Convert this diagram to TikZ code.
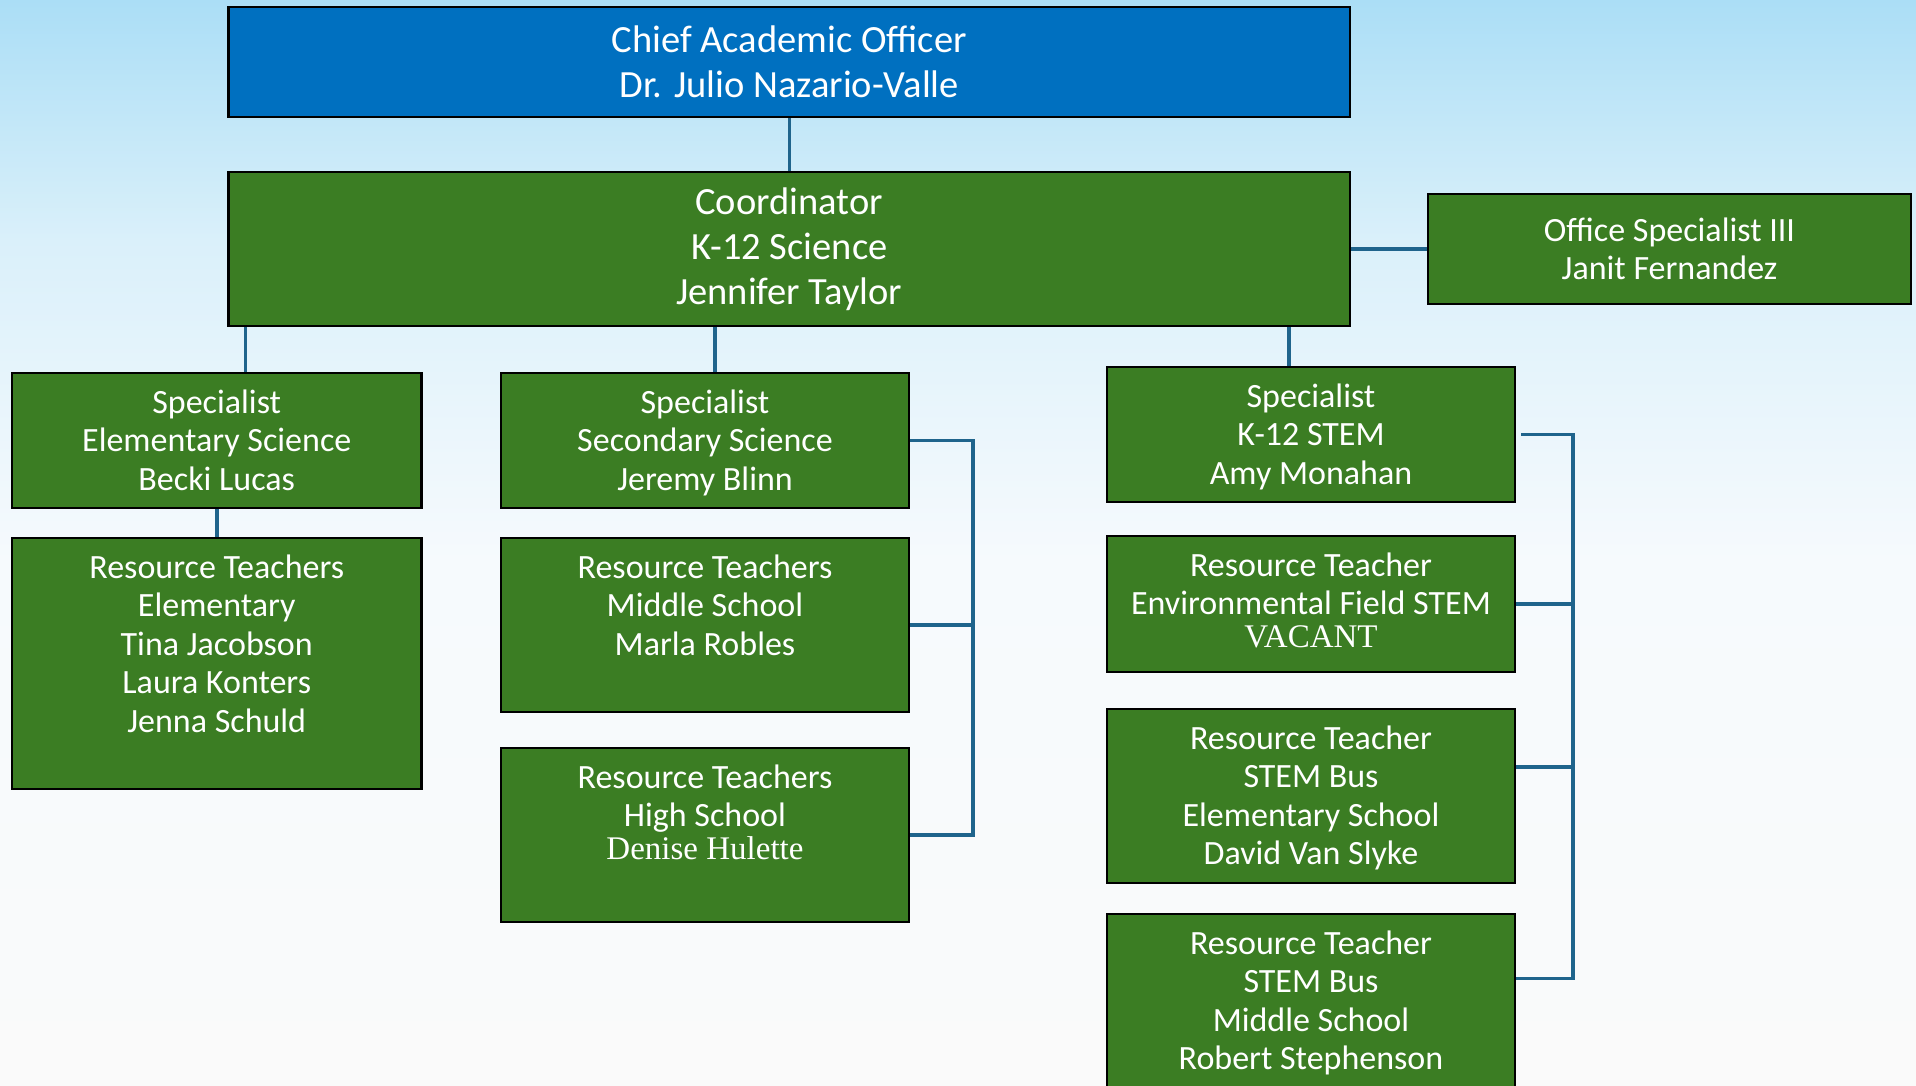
\documentclass[tikz,border=0pt]{standalone}
\usepackage{fontspec}
\setmainfont{Carlito}
\newfontfamily\serifx{Liberation Serif}
\usetikzlibrary{calc}
\definecolor{boxgreen}{HTML}{3B7D23}
\definecolor{boxblue}{HTML}{0070C0}
\definecolor{linkblue}{RGB}{31,100,140}
\definecolor{bg0}{HTML}{ABDEF6}
\definecolor{bg1}{HTML}{DAF0FA}
\definecolor{bg2}{HTML}{F6FAFD}
\definecolor{bg3}{HTML}{FAFAFA}
\tikzset{
  gbox/.style={draw=black, line width=2.6pt, fill=boxgreen, inner sep=0pt},
  bbox/.style={draw=black, line width=2.6pt, fill=boxblue, inner sep=0pt},
  bigtxt/.style={text=white, align=center, font=\fontsize{38.5}{45}\selectfont},
  txt/.style={text=white, align=center, inner sep=0pt, anchor=north, font=\fontsize{34}{38.5}\selectfont},
  serif/.style={font=\serifx\fontsize{33}{38.5}\selectfont},
  link/.style={draw=linkblue, line width=3.5pt},
}
\begin{document}
\begin{tikzpicture}[x=1pt,y=-1pt]
\clip (0,0) rectangle (1916,1086);
\shade[top color=bg0, bottom color=bg1] (0,0) rectangle (1916,240.5);
\shade[top color=bg1, bottom color=bg2] (0,240) rectangle (1916,560.5);
\shade[top color=bg2, bottom color=bg3] (0,560) rectangle (1916,1086);

% top boxes
\node[bbox, bigtxt, minimum width=1121.5pt, minimum height=110pt] (chief) at (789.25,62) {Chief Academic Officer\\Dr. Julio Nazario-Valle};
\node[gbox, bigtxt, minimum width=1121.5pt, minimum height=154pt] (coord) at (789.25,249) {Coordinator\\K-12 Science\\Jennifer Taylor};
\node[gbox, minimum width=483pt, minimum height=110pt] (office) at (1669.5,249) {};
\node[txt, anchor=center] (officet) at (office.center) {Office Specialist III\\Janit Fernandez};

% left column
\node[gbox, minimum width=409.5pt, minimum height=135pt] (se) at (216.75,440.5) {};
\node[txt] (set) at ([yshift=-17.5pt]se.north) {Specialist\\Elementary Science\\Becki Lucas};
\node[gbox, minimum width=409.5pt, minimum height=251pt] (re) at (216.75,663.5) {};
\node[txt] (ret) at ([yshift=-17.5pt]re.north) {Resource Teachers\\Elementary\\Tina Jacobson\\Laura Konters\\Jenna Schuld};

% middle column
\node[gbox, minimum width=408pt, minimum height=135pt] (ss) at (705,440.5) {};
\node[txt] (sst) at ([yshift=-17.5pt]ss.north) {Specialist\\Secondary Science\\Jeremy Blinn};
\node[gbox, minimum width=408pt, minimum height=174pt] (rm) at (705,625) {};
\node[txt] (rmt) at ([yshift=-17.5pt]rm.north) {Resource Teachers\\Middle School\\Marla Robles};
\node[gbox, minimum width=408pt, minimum height=174pt] (rh) at (705,835) {};
\node[txt] (rht) at ([yshift=-17.5pt]rh.north) {Resource Teachers\\High School\\[-6pt]{\serifx\fontsize{33}{38.5}\selectfont Denise Hulette}};

% right column
\node[gbox, minimum width=408pt, minimum height=135pt] (st) at (1311,434.5) {};
\node[txt] (stt) at ([yshift=-17.5pt]st.north) {Specialist\\K-12 STEM\\Amy Monahan};
\node[gbox, minimum width=408pt, minimum height=136pt] (rv) at (1311,604) {};
\node[txt] (rvt) at ([yshift=-17.5pt]rv.north) {Resource Teacher\\Environmental Field STEM\\[-6pt]{\serifx\fontsize{33}{38.5}\selectfont VACANT}};
\node[gbox, minimum width=408pt, minimum height=174pt] (rbe) at (1311,796) {};
\node[txt] (rbet) at ([yshift=-17.5pt]rbe.north) {Resource Teacher\\STEM Bus\\Elementary School\\David Van Slyke};
\node[gbox, minimum width=408pt, minimum height=186pt] (rbm) at (1311,1007) {};
\node[txt] (rbmt) at ([yshift=-17.5pt]rbm.north) {Resource Teacher\\STEM Bus\\Middle School\\Robert Stephenson};

% connectors
\draw[link] (chief.south) -- (coord.north);
\draw[link] (coord.east) -- (office.west);
\coordinate (b1) at ([xshift=18.5pt]coord.south west);
\draw[link] (b1) -- (b1 |- se.north);
\draw[link] (se.south) -- (re.north);
\coordinate (b2) at (715,0);
\draw[link] (b2 |- coord.south) -- (b2 |- ss.north);
\coordinate (b3) at (1289,0);
\draw[link] (b3 |- coord.south) -- (b3 |- st.north);

\coordinate (mx) at (973,0);
\draw[link] (ss.east) -| (mx |- rh.east) -- (rh.east);
\draw[link] (rm.east) -- (mx |- rm.east);

\coordinate (rx) at (1573,0);
\coordinate (s1) at ([xshift=5pt]st.east);
\coordinate (s3) at ([yshift=29pt]rbe.east);
\coordinate (s4) at ([yshift=-66pt]rbm.north east);
\draw[link] (s1) -| (rx |- s4) -- (s4);
\draw[link] (rv.east) -- (rx |- rv.east);
\draw[link] (s3) -- (rx |- s3);
\end{tikzpicture}
\end{document}
